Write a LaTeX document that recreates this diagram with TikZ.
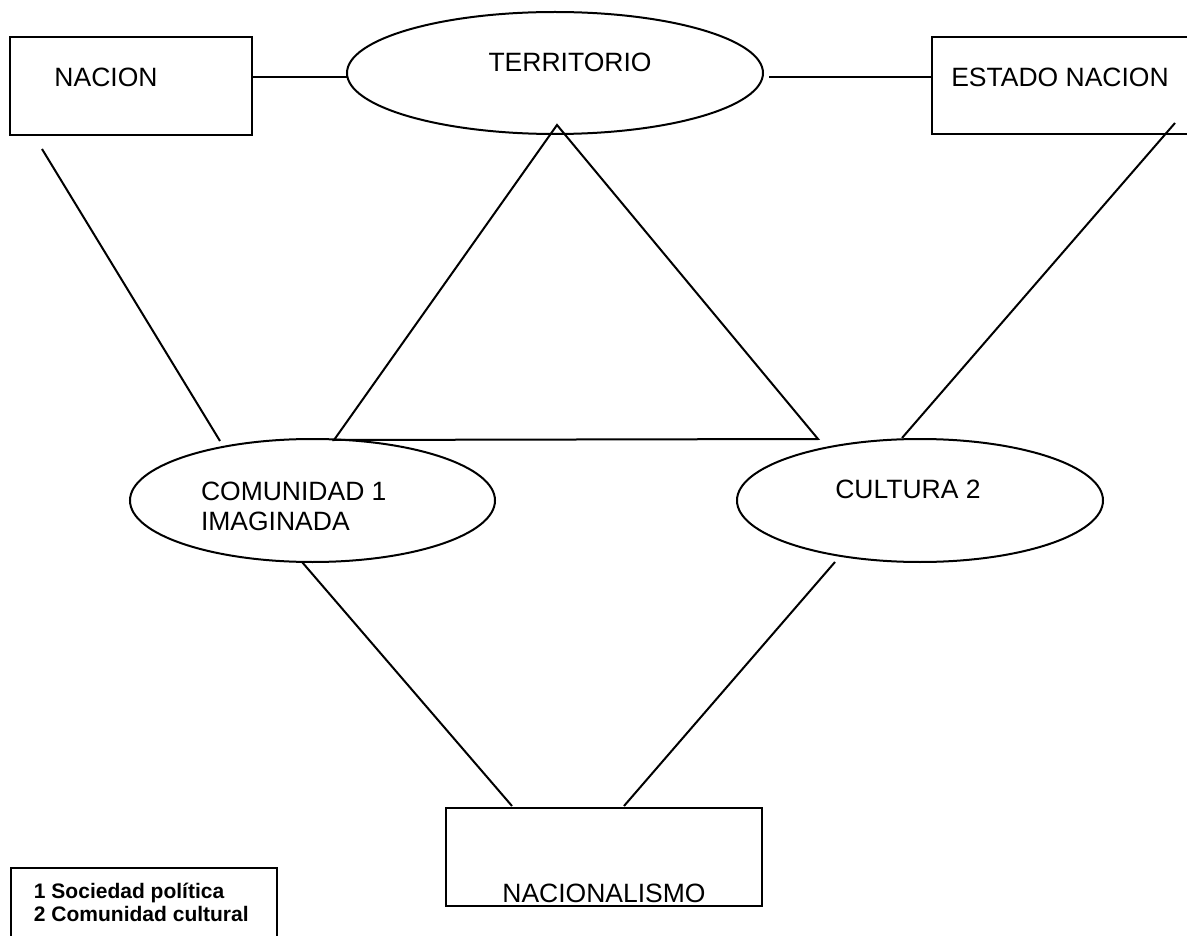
\documentclass[tikz,border=0pt]{standalone}
\usepackage{fontspec}
\setmainfont{Liberation Sans}
\usetikzlibrary{shapes.geometric}
\begin{document}
\begin{tikzpicture}[x=1pt,y=-1pt, line width=2pt,
  box/.style={draw, rectangle, inner sep=0pt},
  oval/.style={draw, ellipse, inner sep=0pt},
  lbl/.style={inner sep=0pt, font=\fontsize{26.5}{30}\selectfont},
  leg/.style={inner sep=0pt, font=\fontsize{21}{24}\selectfont\bfseries}]
\clip (0,0) rectangle (1187,936);
\fill[white] (0,0) rectangle (1187,936);
% shapes
\node[box, minimum width=242pt, minimum height=98pt] (nacion) at (131,86) {};
\node[oval, minimum width=416pt, minimum height=122pt] (territorio) at (555,73) {};
\node[box, minimum width=268pt, minimum height=97pt] (estado) at (1066,85.5) {};
\node[oval, minimum width=365pt, minimum height=123pt] (comunidad) at (312.5,500.5) {};
\node[oval, minimum width=366pt, minimum height=123pt] (cultura) at (920,500.5) {};
\node[box, minimum width=316pt, minimum height=98pt] (nacionalismo) at (604,857) {};
\node[box, minimum width=266pt, minimum height=82pt] (legend) at (144,909) {};
% texts
\node[lbl, anchor=base] (tNacion) at (106,87) {NACION};
\node[lbl, anchor=base] (tTerr) at (570,72) {TERRITORIO};
\node[lbl, anchor=base] (tEstado) at (1060,87) {ESTADO NACION};
\node[lbl, anchor=base west] (tCom1) at (200,500) {COMUNIDAD 1};
\node[lbl, anchor=base west] (tCom2) at (200,530) {IMAGINADA};
\node[lbl, anchor=base] (tCult) at (908,498) {CULTURA 2};
\node[lbl, anchor=base] (tNac) at (604,902) {NACIONALISMO};
\node[leg, anchor=base west] (leg1) at (33,898) {1 Sociedad política};
\node[leg, anchor=base west] (leg2) at (33,921) {2 Comunidad cultural};
% connector end points
\coordinate (nacR) at (252,77);
\coordinate (terL) at (347,77);
\coordinate (terR) at (769,77);
\coordinate (estL) at (932,77);
\coordinate (nacB) at (42,149);
\coordinate (comT) at (220,441);
\coordinate (estB) at (1175,123);
\coordinate (culT) at (902,438);
\coordinate (apex) at (557,125);
\coordinate (triL) at (334,440);
\coordinate (triR) at (818,439);
\coordinate (comB) at (302,562);
\coordinate (culB) at (835,562);
\coordinate (nalL) at (512,806);
\coordinate (nalR) at (624,806);
% connectors
\draw (nacR) -- (terL);
\draw (terR) -- (estL);
\draw (nacB) -- (comT);
\draw (estB) -- (culT);
\draw[line join=miter] (triL) -- (apex) -- (triR) -- cycle;
\draw (comB) -- (nalL);
\draw (culB) -- (nalR);
\end{tikzpicture}
\end{document}
